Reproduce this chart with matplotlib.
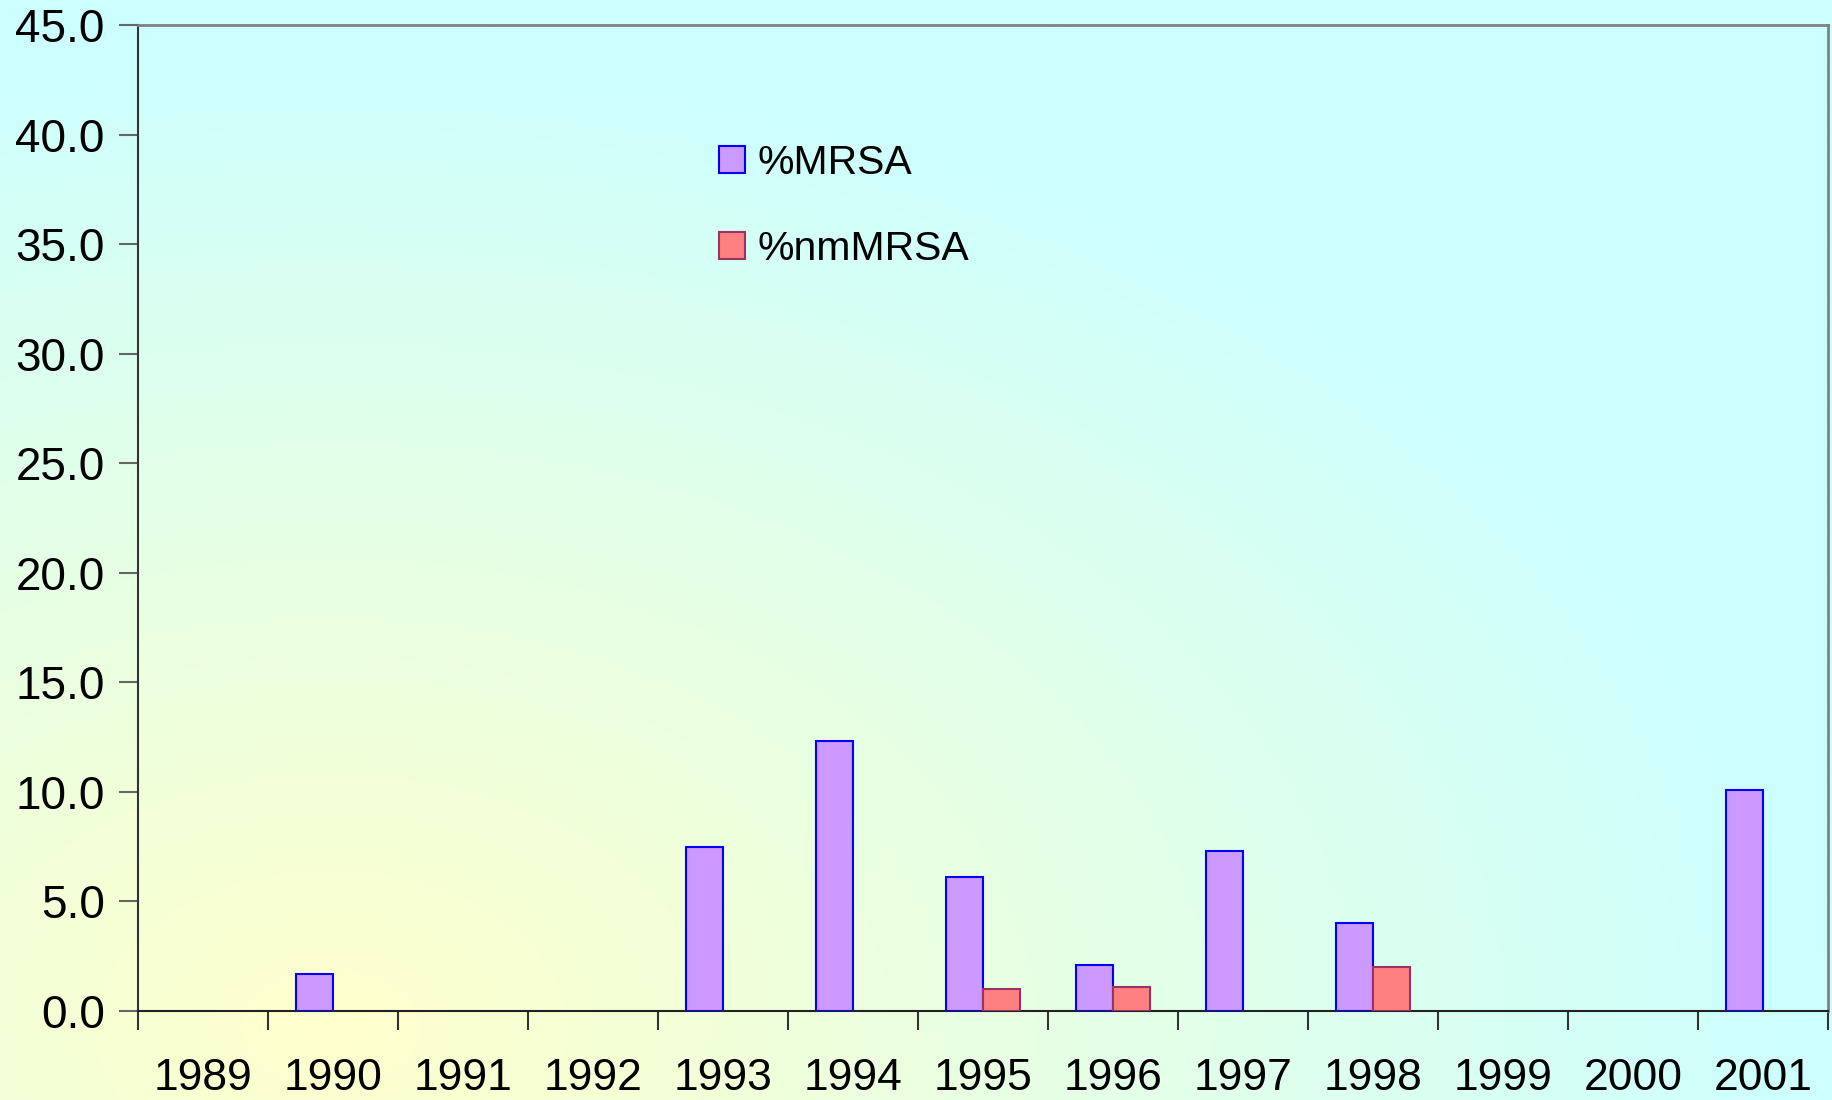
import numpy as np
import matplotlib
matplotlib.use("Agg")
import matplotlib.pyplot as plt
from matplotlib.patches import Patch

years = ["1989", "1990", "1991", "1992", "1993", "1994", "1995",
         "1996", "1997", "1998", "1999", "2000", "2001"]
mrsa = [0.0, 1.7, 0.0, 0.0, 7.5, 12.3, 6.1, 2.1, 7.3, 4.0, 0.0, 0.0, 10.1]
nm_mrsa = [0.0, 0.0, 0.0, 0.0, 0.0, 0.0, 1.0, 1.1, 0.0, 2.0, 0.0, 0.0, 0.0]
yticks = [0, 5, 10, 15, 20, 25, 30, 35, 40, 45]

plt.rcParams['font.family'] = ['Liberation Sans', 'DejaVu Sans']

W, H = 1833, 1100
fig = plt.figure(figsize=(W / 100, H / 100), dpi=100)

# background gradient (pale yellow lower-left -> light cyan top/right)
bg = fig.add_axes([0, 0, 1, 1], zorder=-10)
px = np.linspace(0, W, 460)[None, :]
py = np.linspace(0, H, 276)[:, None]  # 0 top -> H bottom
d = np.sqrt(((px - 330) / 1500.0) ** 2 + ((py - 1030) / 1000.0) ** 2)
w = np.clip(1 - d, 0, 1)
yellow = np.array([1.0, 1.0, 0.8])
cyan = np.array([0.8, 1.0, 1.0])
img = cyan[None, None, :] * (1 - w[..., None]) + yellow[None, None, :] * w[..., None]
bg.imshow(img, aspect='auto', extent=[0, 1, 0, 1], origin='upper', interpolation='bilinear')
bg.set_axis_off()

ax = fig.add_axes([138 / W, 1 - 1011 / H, (1828 - 138) / W, (1011 - 25) / H])
ax.patch.set_alpha(0)

x = np.arange(len(years))
bw = 0.285
m = np.array(mrsa)
n = np.array(nm_mrsa)
mi = m > 0
ni = n > 0
ax.bar(x[mi] - bw / 2, m[mi], width=bw, color='#CC99FF', edgecolor='#0000FF',
       linewidth=1.5, zorder=3)
ax.bar(x[ni] + bw / 2, n[ni], width=bw, color='#FF8080', edgecolor='#993366',
       linewidth=1.5, zorder=3)

ax.set_xlim(-0.5, len(years) - 0.5)
ax.set_ylim(0, 45)
ax.set_yticks(yticks)
ax.set_yticklabels([f"{t:.1f}" for t in yticks], fontsize=33)
ax.set_xticks(x)
ax.set_xticklabels(years, fontsize=32)
ax.set_xticks(np.arange(-0.5, len(years), 1.0), minor=True)
ax.tick_params(axis='x', which='major', length=0, pad=34)
ax.tick_params(axis='x', which='minor', length=14, width=1.5, color='#333333', direction='out')
ax.tick_params(axis='y', which='major', length=14, width=1.5, color='#666666', pad=10, direction='out')

for s in ['top', 'right']:
    ax.spines[s].set_color('#808080')
    ax.spines[s].set_linewidth(2)
ax.spines['left'].set_color('#333333')
ax.spines['left'].set_linewidth(1.5)
ax.spines['bottom'].set_color('#222222')
ax.spines['bottom'].set_linewidth(1.5)

handles = [Patch(facecolor='#CC99FF', edgecolor='#0000FF', linewidth=1.5, label='%MRSA'),
           Patch(facecolor='#FF8080', edgecolor='#993366', linewidth=1.5, label='%nmMRSA')]
ax.legend(handles=handles, loc='upper left', bbox_to_anchor=(719 / W, 1 - 144 / H),
          bbox_transform=fig.transFigure, frameon=False, fontsize=29.5,
          handlelength=0.63, handleheight=0.63, handletextpad=0.31,
          labelspacing=1.17, borderpad=0, borderaxespad=0)

fig.savefig('out.png', dpi=100)
